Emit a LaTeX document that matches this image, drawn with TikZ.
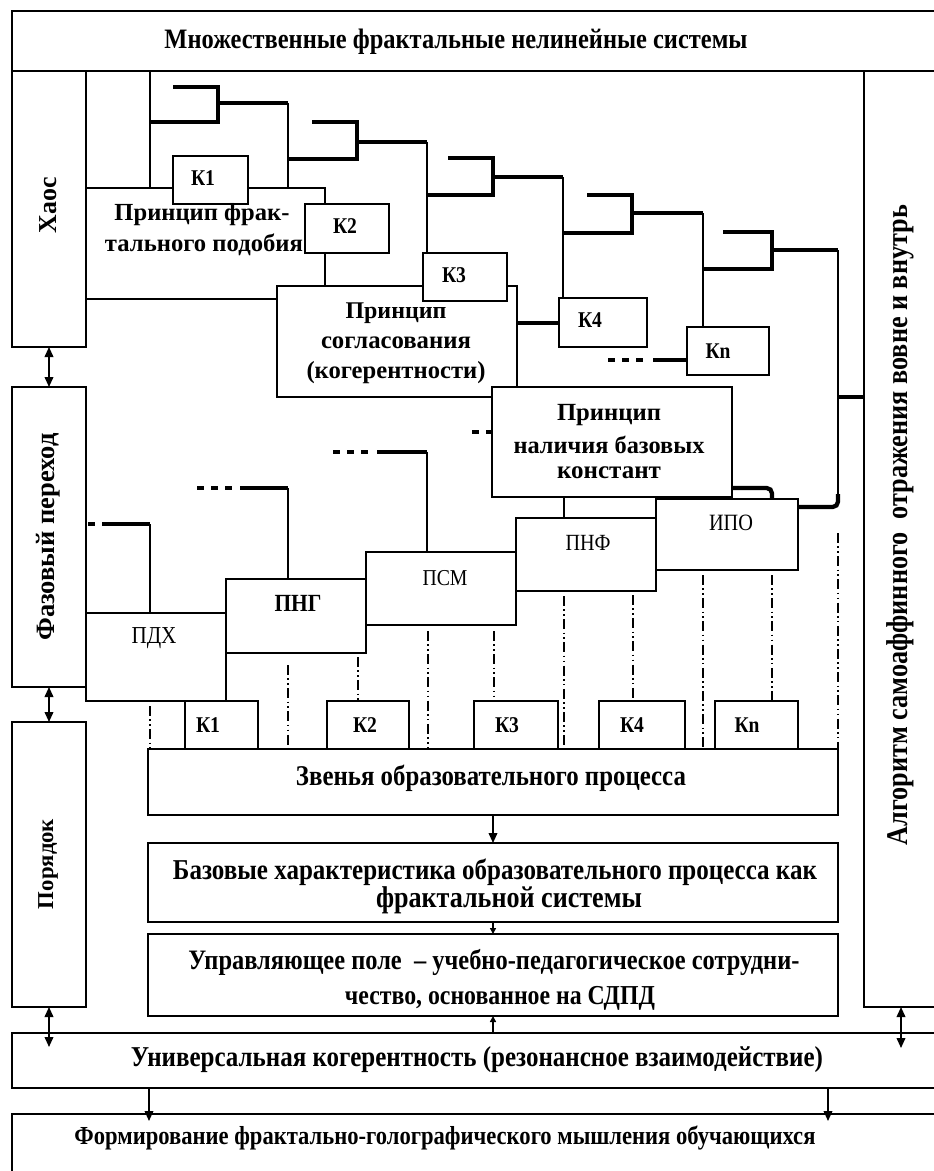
\documentclass[tikz,border=0pt]{standalone}
\usepackage{fontspec}
\setmainfont{Liberation Serif}
\usetikzlibrary{arrows.meta,fit}
\newdimen\px \px=0.75pt
\newcommand\fw[2]{\resizebox{#1\px}{!}{#2}}
\newcommand\fc[2]{\scalebox{1}[1.15]{\resizebox{#1\px}{!}{#2}}}
\begin{document}
\begin{tikzpicture}[x=0.75pt,y=-0.75pt,
  box/.style={draw, line width=2pt, fill=white, inner sep=0pt, outer sep=0pt},
  thn/.style={line width=1.5pt},
  thk/.style={line width=3.2pt},
  dd/.style={line width=1.5pt, dash pattern=on 7.5pt off 2.5pt on 1.2pt off 2.5pt on 1.2pt off 2.5pt},
  dts/.style={line width=3.2pt, dash pattern=on 5.25pt off 5.25pt},
  tb/.style={inner sep=0pt, font=\fontsize{17}{20}\selectfont\bfseries},
  tr/.style={inner sep=0pt, font=\fontsize{17}{20}\selectfont},
  ar/.style={line width=1.2pt, -{Triangle[length=7.5pt,width=6.5pt]}},
  ars/.style={line width=1.2pt, -{Triangle[length=4.5pt,width=4.5pt]}},
  ar2/.style={line width=1.2pt, {Triangle[length=7.5pt,width=6.5pt]}-{Triangle[length=7.5pt,width=6.5pt]}},
]
\useasboundingbox (0,0) rectangle (934,1171);
\fill[white] (0,0) rectangle (934,1171);
\clip (0,0) rectangle (934,1171);

% frame boxes
\node[box, fit={(12,11)(945,71)}] (top) {};
\node[box, fit={(12,71)(86,347)}] (chaos) {};
\node[box, fit={(12,387)(86,687)}] (phase) {};
\node[box, fit={(12,722)(86,1007)}] (order) {};
\node[box, fit={(864,71)(945,1007)}] (alg) {};

% principles and K boxes (upper)
\node[box, fit={(86,188)(325,299)}] (p1) {};
\node[box, fit={(173,156)(248,204)}] (k1) {};
\node[box, fit={(305,204)(389,253)}] (k2) {};
\node[box, fit={(277,286)(517,397)}] (p2) {};
\node[box, fit={(423,253)(507,301)}] (k3) {};
\node[box, fit={(559,298)(647,347)}] (k4) {};
\node[box, fit={(687,327)(769,375)}] (kn) {};
\node[box, fit={(492,387)(732,497)}] (p3) {};

% middle boxes
\node[box, fit={(86,613)(226,701)}] (pdh) {};
\node[box, fit={(226,579)(366,653)}] (png) {};
\node[box, fit={(366,552)(516,625)}] (psm) {};
\node[box, fit={(516,518)(656,591)}] (pnf) {};
\node[box, fit={(656,499)(798,570)}] (ipo) {};

% lower K boxes
\node[box, fit={(185,701)(258,749)}] (b1) {};
\node[box, fit={(327,701)(409,749)}] (b2) {};
\node[box, fit={(474,701)(558,749)}] (b3) {};
\node[box, fit={(599,701)(685,749)}] (b4) {};
\node[box, fit={(715,701)(798,749)}] (bn) {};

% bottom boxes
\node[box, fit={(148,749)(838,815)}] (zv) {};
\node[box, fit={(148,843)(838,922)}] (baz) {};
\node[box, fit={(148,934)(838,1016)}] (upr) {};
\node[box, fit={(12,1033)(945,1088)}] (univ) {};
\node[box, fit={(12,1114)(945,1190)}] (form) {};

% fractal tree
\draw[thn] (150,0 |- top.south) -- (150,0 |- p1.north);
\draw[thk] (173,87) -- (218,87) -- (218,122) -- (150,122);
\draw[thk] (218,103) -- (288,103);
\draw[thn] (288,103) -- (288,0 |- p1.north);
\draw[thk] (312,122) -- (357,122) -- (357,159) -- (288,159);
\draw[thk] (357,142) -- (427,142);
\draw[thn] (427,142) -- (427,0 |- k3.north);
\draw[thk] (448,158) -- (493,158) -- (493,195) -- (427,195);
\draw[thk] (493,177) -- (563,177);
\draw[thn] (563,177) -- (563,0 |- k4.north);
\draw[thk] (587,195) -- (632,195) -- (632,233) -- (563,233);
\draw[thk] (632,213) -- (703,213);
\draw[thn] (703,213) -- (703,0 |- kn.north);
\draw[thk] (723,232) -- (772,232) -- (772,269) -- (703,269);
\draw[thk] (772,250) -- (838,250);
\draw[thn] (838,250) -- (838,500);
\draw[thk, rounded corners=4pt] (838,494) -- (838,507) -- (ipo.east |- 0,507);
\draw[thk] (838,397) -- (alg.west |- 0,397);

% connectors of K and principles
\draw[thk] (p2.east |- 0,323) -- (k4.west |- 0,323);
\draw[dts] (608,360) -- (645,360);
\draw[thk] (653,360) -- (kn.west |- 0,360);
\draw[dts] (472,432) -- (p3.west |- 0,432);
\draw[thk, rounded corners=4pt] (p3.east |- 0,488) -- (772,488) -- (772,0 |- ipo.north);
\draw[thn] (564,0 |- p3.south) -- (564,0 |- pnf.north);

% dotted leaders to middle boxes
\draw[dts] (88,524) -- (95,524);
\draw[thk] (102,524) -- (150,524);
\draw[thn] (150,524) -- (150,0 |- pdh.north);
\draw[dts] (197,488) -- (234,488);
\draw[thk] (240,488) -- (288,488);
\draw[thn] (288,488) -- (288,0 |- png.north);
\draw[dts] (333,452) -- (369,452);
\draw[thk] (377,452) -- (427,452);
\draw[thn] (427,452) -- (427,0 |- psm.north);

% dash-dot lines
\draw[dd] (150,0 |- pdh.south) ++(0,5) -- (150,0 |- zv.north);
\draw[dd] (288,0 |- png.south) ++(0,12) -- (288,0 |- zv.north);
\draw[dd] (358,0 |- png.south) ++(0,4) -- (358,0 |- b2.north);
\draw[dd] (428,0 |- psm.south) ++(0,6) -- (428,0 |- zv.north);
\draw[dd] (494,0 |- psm.south) ++(0,6) -- (494,0 |- b3.north);
\draw[dd] (564,0 |- pnf.south) ++(0,5) -- (564,0 |- zv.north);
\draw[dd] (633,0 |- pnf.south) ++(0,4) -- (633,0 |- b4.north);
\draw[dd] (703,0 |- ipo.south) ++(0,5) -- (703,0 |- zv.north);
\draw[dd] (772,0 |- ipo.south) ++(0,5) -- (772,0 |- bn.north);
\draw[dd] (838,533) -- (838,0 |- zv.north);

% arrows
\draw[ar2] (chaos.south) -- (phase.north);
\draw[ar2] (phase.south) -- (order.north);
\draw[ar2] (order.south) -- (order.south |- 0,1047);
\draw[ar2] (901,0 |- alg.south) -- (901,1048);
\draw[ar] (zv.south) -- (baz.north);
\draw[ars] (baz.south) -- (upr.north);
\draw[ars] (univ.north -| upr.south) -- (upr.south);
\draw[ar] (149,0 |- univ.south) -- (149,1121);
\draw[ar] (828,0 |- univ.south) -- (828,1121);

% texts
\node[tb] (topt) at (456,42) {\fc{583}{Множественные фрактальные нелинейные системы}};
\node[tb, rotate=90] (chaost) at (48,205) {\fw{56}{Хаос}};
\node[tb, rotate=90] (phaset) at (48,537) {\fw{207}{Фазовый переход}};
\node[tb, rotate=90] (ordert) at (48,864) {\fw{90}{Порядок}};
\node[tb, rotate=90] (algt) at (900,525) {\fc{640}{Алгоритм самоаффинного~~отражения вовне и внутрь}};

\node[tb] (p1a) at (202,215) {\fw{175}{Принцип фрак-}};
\node[tb] (p1b) at (204,245) {\fw{198}{тального подобия}};
\node[tb] (p2a) at (396,313) {\fw{101}{Принцип}};
\node[tb] (p2b) at (396,343) {\fw{150}{согласования}};
\node[tb] (p2c) at (396,373) {\fw{179}{(когерентности)}};
\node[tb] (p3a) at (609,415) {\fw{104}{Принцип}};
\node[tb] (p3b) at (609,445) {\fw{191}{наличия базовых}};
\node[tb] (p3c) at (609,473) {\fw{104}{констант}};

\node[tb] (k1t) at (203,178) {\fc{24}{К1}};
\node[tb] (k2t) at (345,226) {\fc{24}{К2}};
\node[tb] (k3t) at (454,275) {\fc{24}{К3}};
\node[tb] (k4t) at (590,320) {\fc{24}{К4}};
\node[tb] (knt) at (718,351) {\fc{25}{Кn}};

\node[tr] (pdht) at (154,638) {\fc{45}{ПДХ}};
\node[tb] (pngt) at (298,603) {\fc{47}{ПНГ}};
\node[tr] (psmt) at (445,578) {\fc{45}{ПСМ}};
\node[tr] (pnft) at (588,543) {\fc{45}{ПНФ}};
\node[tr] (ipot) at (731,523) {\fc{44}{ИПО}};

\node[tb] (b1t) at (208,725) {\fc{24}{К1}};
\node[tb] (b2t) at (365,725) {\fc{24}{К2}};
\node[tb] (b3t) at (507,725) {\fc{24}{К3}};
\node[tb] (b4t) at (632,725) {\fc{24}{К4}};
\node[tb] (bnt) at (747,725) {\fc{25}{Кn}};

\node[tb] (zvt) at (491,778) {\fc{390}{Звенья образовательного процесса}};
\node[tb] (baza) at (495,872) {\fc{644}{Базовые характеристика образовательного процесса как}};
\node[tb] (bazb) at (509,900) {\fc{266}{фрактальной системы}};
\node[tb] (upra) at (494,962) {\fc{611}{Управляющее поле~~– учебно-педагогическое сотрудни-}};
\node[tb] (uprb) at (500,998) {\fc{310}{чество, основанное на СДПД}};
\node[tb] (univt) at (477,1060) {\fc{692}{Универсальная когерентность (резонансное взаимодействие)}};
\node[tb] (formt) at (445,1138) {\fc{741}{Формирование фрактально-голографического мышления обучающихся}};
\end{tikzpicture}
\end{document}
